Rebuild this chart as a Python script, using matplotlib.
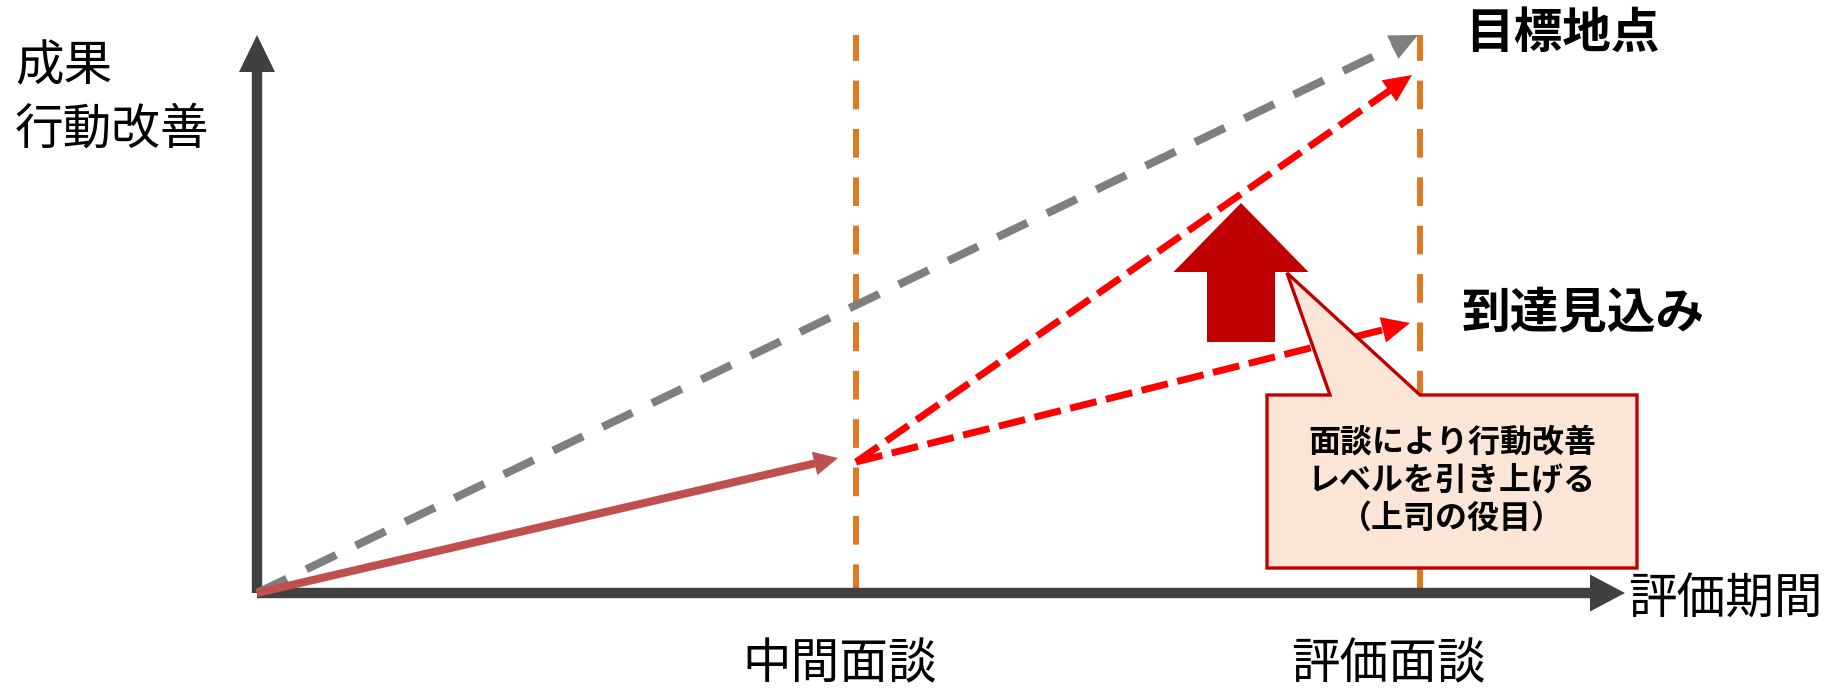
import numpy as np
import matplotlib.pyplot as plt
from matplotlib.patches import Polygon, FancyArrow

plt.rcParams['font.family'] = ['Noto Sans CJK JP', 'DejaVu Sans']

# diagram coordinates: x = time along the evaluation period, y = performance level
origin = (0, 0)
interview_x = [599, 1163]            # mid interview, final interview
interview_labels = ['中間面談', '評価面談']
interview_label_x = [583, 1131]
interview_top = 558

target_pt = (1161, 558)              # goal (gray dashed)
mid_pt = (599, 131)                  # actual result at mid interview
improved_pt = (1155, 518)            # after improvement (upper red)
forecast_pt = (1153, 270)            # forecast without change (lower red)

y_axis_top = 558
x_axis_end = 1368

callout_text = '面談により行動改善\nレベルを引き上げる\n（上司の役目）'

AXIS = '#404040'
GRAY = '#7F7F7F'
RED = '#FF0000'
SOLID_RED = '#C0504D'
DARK_RED = '#C00000'
ORANGE = '#E07820'


def arrow(ax, p0, p1, color, lw, ls='-', head_len=26, head_w=26, z=3):
    p0 = np.array(p0, float)
    p1 = np.array(p1, float)
    d = (p1 - p0) / np.linalg.norm(p1 - p0)
    n = np.array([-d[1], d[0]])
    base = p1 - d * head_len
    ax.plot([p0[0], base[0] + d[0] * 2], [p0[1], base[1] + d[1] * 2],
            color=color, lw=lw, ls=ls, solid_capstyle='butt', zorder=z)
    tri = [p1, base + n * head_w / 2, base - n * head_w / 2]
    ax.add_patch(Polygon(tri, closed=True, color=color, lw=0, zorder=z))


fig = plt.figure(figsize=(18.34, 6.88), dpi=100)
ax = fig.add_axes([0, 0, 1, 1])
ax.set_xlim(-257, 1577)
ax.set_ylim(-95, 593)
ax.axis('off')

# interview markers
for x in interview_x:
    ax.plot([x, x], [0, interview_top], color=ORANGE, lw=4.3,
            ls=(0, (4.8, 3.3)), zorder=1)
for x, lab in zip(interview_label_x, interview_labels):
    ax.text(x, -72, lab, ha='center', va='center', fontsize=35)

# axes
arrow(ax, origin, (0, y_axis_top), AXIS, 7.5, head_len=37, head_w=36, z=2)
arrow(ax, origin, (x_axis_end, 0), AXIS, 7.5, head_len=35, head_w=37, z=2)
ax.text(-242, 526, '成果', ha='left', va='center', fontsize=35)
ax.text(-242, 463, '行動改善', ha='left', va='center', fontsize=35)
ax.text(x_axis_end + 3, -7, '評価期間', ha='left', va='center', fontsize=35)

# lines
arrow(ax, origin, target_pt, GRAY, 5.8, ls=(0, (4.1, 2.7)), head_len=28, head_w=26, z=3)
arrow(ax, origin, (mid_pt[0] - 18, mid_pt[1] + 4), SOLID_RED, 5.8, head_len=24, head_w=24, z=4)
arrow(ax, mid_pt, improved_pt, RED, 5.0, ls=(0, (3.9, 1.4)), head_len=28, head_w=26, z=4)
arrow(ax, mid_pt, forecast_pt, RED, 5.0, ls=(0, (3.9, 1.4)), head_len=28, head_w=26, z=4)

ax.text(1208, 560, '目標地点', ha='left', va='center', fontsize=35, fontweight='bold')
ax.text(1205, 280, '到達見込み', ha='left', va='center', fontsize=35, fontweight='bold')

# big up arrow
ax.add_patch(FancyArrow(984, 251, 0, 139, width=68, head_width=135, head_length=69,
                        length_includes_head=True, color=DARK_RED, lw=0, zorder=5))

# callout box
box = [(1010, 25), (1380, 25), (1380, 198), (1163, 198), (1030, 320),
       (1073, 198), (1010, 198)]
ax.add_patch(Polygon(box, closed=True, facecolor='#FBE5D6', edgecolor=DARK_RED,
                     lw=2.4, joinstyle='miter', zorder=6))
ax.text(1195, 112, callout_text, ha='center', va='center', fontsize=23,
        fontweight='bold', linespacing=1.25, zorder=7)

fig.savefig('out.png', dpi=100)
